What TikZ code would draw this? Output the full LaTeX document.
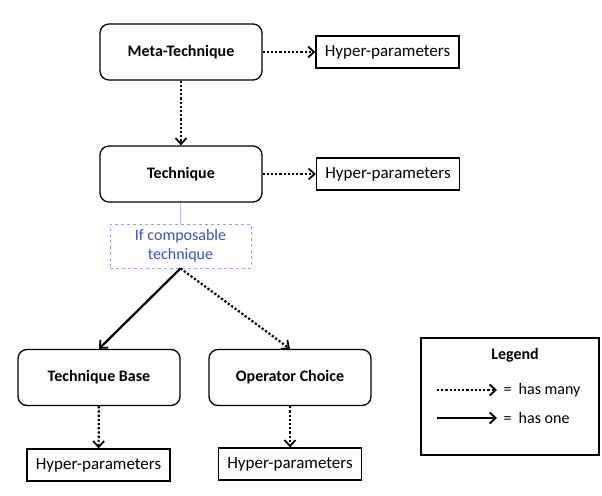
\documentclass[tikz,border=0pt]{standalone}
\usepackage{fontspec}
\setmainfont{Carlito}
\usetikzlibrary{arrows.meta}
\definecolor{blueish}{RGB}{60,80,200}
\definecolor{lightblue}{RGB}{150,160,230}
\begin{document}
\begin{tikzpicture}[x=1pt,y=-1pt,
  roundbox/.style={draw, line width=1.3pt, rounded corners=9pt, minimum width=162pt, minimum height=56pt, font=\fontsize{16}{18}\selectfont\bfseries},
  hpbox/.style={draw, line width=1.3pt, minimum width=143pt, minimum height=32pt, font=\fontsize{17}{19}\selectfont},
  many/.style={line width=2.2pt, dotted, -{Straight Barb[length=6pt,width=11pt,line width=1.8pt]}},
  one/.style={line width=2.2pt, -{Straight Barb[length=6pt,width=11pt,line width=1.8pt]}}]
\useasboundingbox (0,0) rectangle (602,495);
\node[roundbox] (meta) at (181,52) {Meta-Technique};
\node[hpbox] (hp1) at (387.5,52) {Hyper-parameters};
\node[roundbox] (tech) at (181,174) {Technique};
\node[hpbox] (hp2) at (388,174) {Hyper-parameters};
\node[draw=lightblue, dashed, line width=0.8pt, minimum width=141pt, minimum height=44pt, align=center, text=blueish, font=\fontsize{16}{19}\selectfont] (comp) at (180.5,246) {If composable\\technique};
\node[roundbox] (tb) at (99,377.5) {Technique Base};
\node[roundbox] (oc) at (290,377.5) {Operator Choice};
\node[hpbox] (hp3) at (98.5,465) {Hyper-parameters};
\node[hpbox] (hp4) at (290,464) {Hyper-parameters};
\draw[many] (meta) -- (hp1);
\draw[many] (meta) -- (tech);
\draw[many] (tech) -- (hp2);
\draw[lightblue, line width=0.8pt] (tech) -- (comp);
\draw[one] (comp.south) -- (tb.north);
\draw[many] (comp.south) -- (oc.north);
\draw[many] (tb) -- (hp3);
\draw[many] (oc) -- (hp4);
% legend
\node[draw, line width=1.3pt, minimum width=178pt, minimum height=117pt] (leg) at (510,396.5) {};
\node[font=\fontsize{16}{18}\selectfont\bfseries] (legt) at (515,355) {Legend};
\coordinate (l1a) at (437,390);
\coordinate (l1b) at (497,390);
\coordinate (l2a) at (437,418);
\coordinate (l2b) at (497,418);
\draw[many] (l1a) -- (l1b);
\draw[one] (l2a) -- (l2b);
\node[anchor=west, font=\fontsize{16}{18}\selectfont] (t1) at (500,390) {=~~has many};
\node[anchor=west, font=\fontsize{16}{18}\selectfont] (t2) at (500,418) {=~~has one};
\end{tikzpicture}
\end{document}
